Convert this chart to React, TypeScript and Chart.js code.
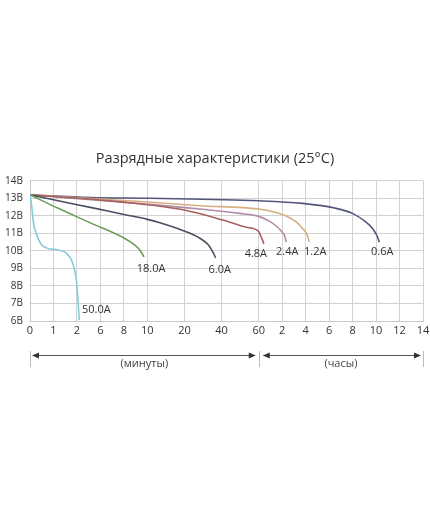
import React, { useEffect, useRef } from "react";
import { Chart, registerables } from "chart.js";

Chart.register(...registerables);

// X axis: tick values in minutes and their printed labels (minutes, then hours)
const TICK_MINUTES = [0, 1, 2, 6, 8, 10, 20, 40, 60, 120, 240, 360, 480, 600, 720, 840];
const TICK_LABELS = ["0", "1", "2", "6", "8", "10", "20", "40", "60", "2", "4", "6", "8", "10", "12", "14"];
// axis geometry: relative position of each tick (the 10–60 min part is wider)
const TICK_POS = [0, 1, 2, 3, 4, 5, 6.583, 8.167, 9.75, 10.75, 11.75, 12.75, 13.75, 14.75, 15.75, 16.75];

const Y_MIN = 6;
const Y_MAX = 14;

// Curves: time in minutes, voltage in volts
const T_50A = [0, 0.07, 0.14, 0.29, 0.5, 0.78, 1.2, 1.56, 1.77, 1.88, 1.97, 2.08, 2.24, 2.4];
const V_50A = [13.2, 12.6, 11.66, 10.9, 10.33, 10.14, 10.05, 9.86, 9.47, 9.0, 8.4, 7.7, 6.9, 6.05];

const T_18A = [0, 1.2, 4.5, 8.08, 8.94, 9.36, 9.72];
const V_18A = [13.2, 12.43, 11.57, 10.71, 10.33, 10.05, 9.66];

const T_6A = [0, 1.2, 4.5, 8, 10, 13.4, 19.7, 28.3, 32.7, 35.4, 36.8];
const V_6A = [13.2, 12.86, 12.47, 12.08, 11.8, 11.6, 11.15, 10.72, 10.36, 9.92, 9.6];

const T_48A = [0, 7.7, 19.9, 40.7, 53.2, 60, 65, 70, 73];
const V_48A = [13.2, 12.8, 12.33, 11.76, 11.35, 11.1, 10.85, 10.6, 10.4];

const T_24A = [0, 9.4, 28.3, 49.6, 60, 86.8, 104.7, 117.4, 132.8, 140.4];
const V_24A = [13.2, 12.7, 12.39, 12.14, 11.97, 11.7, 11.42, 11.13, 10.85, 10.5];

const T_12A = [0, 9.4, 28.3, 60, 99.6, 140.4, 191.5, 224.7, 247.7, 258];
const V_12A = [13.2, 12.82, 12.58, 12.39, 12.22, 11.99, 11.65, 11.27, 10.9, 10.5];

const T_06A = [0, 4.2, 11.1, 60, 224, 394, 479, 547, 581, 607, 616];
const V_06A = [13.2, 13.05, 13.0, 12.86, 12.71, 12.43, 12.14, 11.66, 11.29, 10.81, 10.5];

const SERIES_NAMES = ["50.0A", "18.0A", "6.0A", "4.8A", "2.4A", "1.2A", "0.6A"];
const SERIES_T = [T_50A, T_18A, T_6A, T_48A, T_24A, T_12A, T_06A];
const SERIES_V = [V_50A, V_18A, V_6A, V_48A, V_24A, V_12A, V_06A];
const SERIES_COLORS = ["#86cbd9", "#6e9e5c", "#4b4f63", "#a8605c", "#b08ca6", "#d9ad82", "#51567a"];
// label offsets (px) from each curve's end point
const LABEL_DX = [17, 7, 4, -8, 1, 6, 3];
const LABEL_DY = [-10, 12, 12, 10, 10, 10, 10];

const TITLE = "Разрядные характеристики (25°C)";
const UNIT_MIN = "(минуты)";
const UNIT_HOUR = "(часы)";

function toAxis(minutes: number): number {
  for (let i = 1; i < TICK_MINUTES.length; i++) {
    if (minutes <= TICK_MINUTES[i]) {
      const a = TICK_MINUTES[i - 1];
      const b = TICK_MINUTES[i];
      const f = (minutes - a) / (b - a);
      return TICK_POS[i - 1] + f * (TICK_POS[i] - TICK_POS[i - 1]);
    }
  }
  return TICK_POS[TICK_POS.length - 1];
}

const FONT = "'Open Sans', 'DejaVu Sans', sans-serif";

const labelPlugin = {
  id: "curveLabels",
  afterDatasetsDraw(chart: any) {
    const ctx = chart.ctx;
    ctx.save();
    ctx.font = `11px ${FONT}`;
    ctx.fillStyle = "#333";
    ctx.textAlign = "center";
    ctx.textBaseline = "middle";
    chart.data.datasets.forEach((ds: any, i: number) => {
      const meta = chart.getDatasetMeta(i);
      const pt = meta.data[meta.data.length - 1];
      if (!pt) return;
      ctx.fillText(SERIES_NAMES[i], pt.x + LABEL_DX[i], pt.y + LABEL_DY[i]);
    });
    ctx.restore();
  },
};

const bracketPlugin = {
  id: "unitBrackets",
  afterDraw(chart: any) {
    const ctx = chart.ctx;
    const xs = chart.scales.x;
    const bottom = chart.chartArea.bottom;
    const x0 = xs.getPixelForValue(toAxis(TICK_MINUTES[0]));
    const x1 = xs.getPixelForValue(toAxis(60));
    const x2 = xs.getPixelForValue(toAxis(TICK_MINUTES[TICK_MINUTES.length - 1]));
    const yLine = bottom + 34;
    ctx.save();
    ctx.lineWidth = 1;
    [x0, x1, x2].forEach((x) => {
      ctx.strokeStyle = "#bbbbbb";
      ctx.beginPath();
      ctx.moveTo(Math.round(x) + 0.5, yLine - 4);
      ctx.lineTo(Math.round(x) + 0.5, yLine + 12);
      ctx.stroke();
    });
    const arrow = (xa: number, xb: number) => {
      ctx.strokeStyle = "#555";
      ctx.beginPath();
      ctx.moveTo(xa + 2, yLine + 0.5);
      ctx.lineTo(xb - 2, yLine + 0.5);
      ctx.stroke();
      ctx.fillStyle = "#333";
      ctx.beginPath();
      ctx.moveTo(xa + 1, yLine + 0.5);
      ctx.lineTo(xa + 8, yLine - 2.5);
      ctx.lineTo(xa + 8, yLine + 3.5);
      ctx.closePath();
      ctx.fill();
      ctx.beginPath();
      ctx.moveTo(xb - 1, yLine + 0.5);
      ctx.lineTo(xb - 8, yLine - 2.5);
      ctx.lineTo(xb - 8, yLine + 3.5);
      ctx.closePath();
      ctx.fill();
    };
    arrow(x0 + 1, x1 - 2);
    arrow(x1 + 3, x2 - 1);
    ctx.font = `11px ${FONT}`;
    ctx.fillStyle = "#444";
    ctx.textAlign = "center";
    ctx.textBaseline = "middle";
    ctx.fillText(UNIT_MIN, (x0 + x1) / 2, yLine + 9);
    ctx.fillText(UNIT_HOUR, (x1 + x2) / 2, yLine + 9);
    ctx.restore();
  },
};

export default function App() {
  const ref = useRef<HTMLCanvasElement | null>(null);
  useEffect(() => {
    if (!ref.current) return;
    const datasets = SERIES_NAMES.map((name, i) => ({
      label: name,
      data: SERIES_T[i].map((t, j) => ({ x: toAxis(t), y: SERIES_V[i][j] })),
      borderColor: SERIES_COLORS[i],
      borderWidth: 1.6,
      pointRadius: 0,
      fill: false,
      cubicInterpolationMode: "monotone" as const,
    }));
    const chart = new Chart(ref.current, {
      type: "line",
      data: { datasets },
      plugins: [labelPlugin, bracketPlugin],
      options: {
        animation: false,
        responsive: false,
        devicePixelRatio: 1,
        layout: { padding: { left: 0, right: 0, top: 0, bottom: 0 } },
        plugins: {
          legend: { display: false },
          tooltip: { enabled: false },
          title: {
            display: true,
            text: TITLE,
            color: "#333",
            font: { family: FONT, size: 14.5, weight: "normal" as const, lineHeight: 1.2 },
            padding: { top: 150.3, bottom: 13.1 },
          },
        },
        scales: {
          x: {
            type: "linear",
            min: TICK_POS[0],
            max: TICK_POS[TICK_POS.length - 1],
            afterBuildTicks: (scale: any) => {
              scale.ticks = TICK_POS.map((v) => ({ value: v }));
            },
            afterFit: (scale: any) => {
              scale.height = 199;
              scale.paddingLeft = 0;
              scale.paddingRight = 7;
            },
            ticks: {
              autoSkip: false,
              maxRotation: 0,
              padding: 3,
              color: "#333",
              font: { family: FONT, size: 11 },
              callback: (_v: any, idx: number) => TICK_LABELS[idx],
            },
            grid: { color: "#d2d2d2", drawTicks: false },
            border: { color: "#c8c8c8" },
          },
          y: {
            type: "linear",
            min: Y_MIN,
            max: Y_MAX,
            afterFit: (scale: any) => {
              scale.width = 30;
              scale.paddingTop = 0;
              scale.paddingBottom = 0;
            },
            ticks: {
              stepSize: 1,
              padding: 7,
              color: "#333",
              font: { family: FONT, size: 10 },
              callback: (v: any) => `${v}В`,
            },
            grid: { color: "#d2d2d2", drawTicks: false },
            border: { color: "#c8c8c8" },
          },
        },
      },
    });
    return () => chart.destroy();
  }, []);
  return (
    <div style={{ position: "absolute", left: 0, top: 0, width: 430, height: 520, background: "#fff" }}>
      <canvas ref={ref} width={430} height={520} style={{ width: 430, height: 520, display: "block" }} />
    </div>
  );
}
